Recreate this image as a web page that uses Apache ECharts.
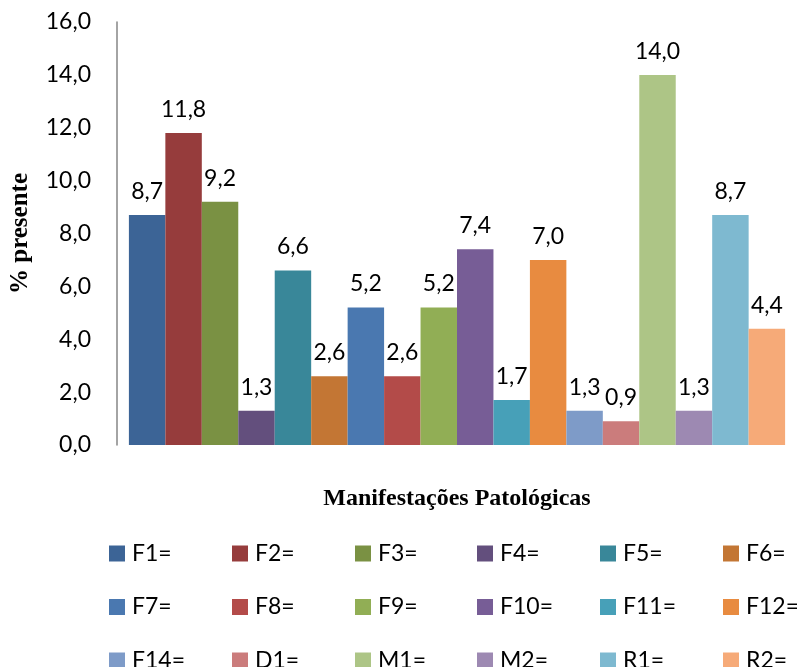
<!DOCTYPE html>
<html>
<head>
<meta charset="utf-8">
<script src="https://cdn.jsdelivr.net/npm/echarts@6/dist/echarts.min.js"></script>
<style>
  html, body { margin: 0; padding: 0; background: #fff; }
  #chart { width: 797px; height: 667px; }
</style>
</head>
<body>
<div id="chart"></div>
<script>
// Manifestações patológicas: percentagem de ocorrência de cada tipo
const seriesNames = ['F1=', 'F2=', 'F3=', 'F4=', 'F5=', 'F6=',
                     'F7=', 'F8=', 'F9=', 'F10=', 'F11=', 'F12=',
                     'F14=', 'D1=', 'M1=', 'M2=', 'R1=', 'R2='];
const seriesValues = [8.7, 11.8, 9.2, 1.3, 6.6, 2.6,
                      5.2, 2.6, 5.2, 7.4, 1.7, 7.0,
                      1.3, 0.9, 14.0, 1.3, 8.7, 4.4];
const seriesColors = ['#3C6496', '#963C3C', '#7A9143', '#634F7D', '#398799', '#C37634',
                      '#4A78B0', '#B34B49', '#91AE55', '#775D96', '#47A0B8', '#E88B40',
                      '#7E9BC8', '#CB7C7C', '#ADC586', '#9D89B2', '#7EB9D0', '#F6AA78'];
const yTickMin = 0, yTickMax = 16, yTickStep = 2;

const fmt = v => Number(v).toFixed(1).replace('.', ',');
const sansFont = 'Lato';
const serifFont = 'Liberation Serif';

const series = seriesNames.map((name, i) => ({
  name: name,
  type: 'bar',
  data: [seriesValues[i]],
  itemStyle: { color: seriesColors[i] },
  barGap: '0%',
  barCategoryGap: '3.5%',
  label: {
    show: true,
    position: 'top',
    distance: 12,
    color: '#000',
    fontFamily: sansFont,
    fontSize: 23,
    formatter: p => fmt(p.value)
  }
}));

// legend laid out as six columns of three entries
const colLeft = [109, 232, 355, 477, 600, 723];
const legends = colLeft.map((x, c) => ({
  data: [seriesNames[c], seriesNames[c + 6], seriesNames[c + 12]],
  orient: 'vertical',
  left: x,
  top: 542,
  height: 160,
  padding: 0,
  itemWidth: 16,
  itemHeight: 16,
  itemGap: 30.5,
  icon: 'rect',
  textStyle: {
    fontFamily: sansFont,
    fontSize: 23,
    lineHeight: 20,
    color: '#000',
    padding: [0, 0, 0, 2]
  }
}));

const chart = echarts.init(document.getElementById('chart'), null, { renderer: 'canvas' });
chart.setOption({
  animation: false,
  backgroundColor: '#fff',
  grid: { left: 113, right: 0, top: 22, bottom: 222, containLabel: false },
  legend: legends,
  xAxis: {
    type: 'category',
    data: [''],
    axisLine: { show: false },
    axisTick: { show: false },
    axisLabel: { show: false },
    name: 'Manifestações Patológicas',
    nameLocation: 'middle',
    nameGap: 42,
    nameTextStyle: { fontFamily: serifFont, fontWeight: 'bold', fontSize: 24, color: '#000' }
  },
  yAxis: {
    type: 'value',
    min: yTickMin,
    max: yTickMax,
    interval: yTickStep,
    axisLine: { show: true, lineStyle: { color: '#868686', width: 1.5 } },
    axisTick: { show: false },
    splitLine: { show: false },
    axisLabel: {
      fontFamily: sansFont,
      fontSize: 23,
      color: '#000',
      margin: 26,
      formatter: v => fmt(v)
    },
    name: '% presente',
    nameLocation: 'middle',
    nameRotate: 90,
    nameGap: 84,
    nameTextStyle: { fontFamily: serifFont, fontWeight: 'bold', fontSize: 25, color: '#000' }
  },
  series: series
});
</script>
</body>
</html>
